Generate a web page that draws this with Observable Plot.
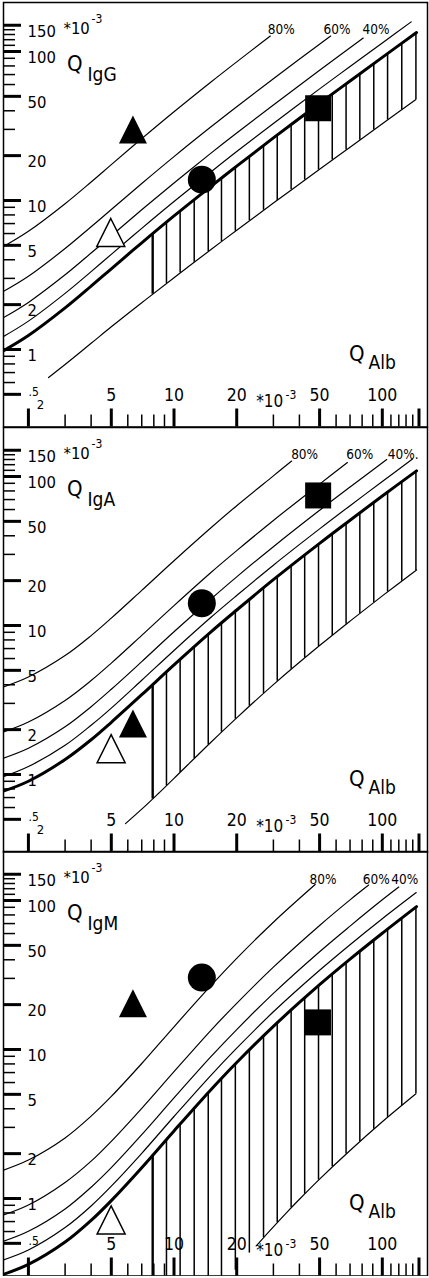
<!DOCTYPE html>
<html><head><meta charset="utf-8">
<script src="https://cdn.jsdelivr.net/npm/d3@7"></script>
<script src="https://cdn.jsdelivr.net/npm/@observablehq/plot@0.6"></script>
<style>
html,body{margin:0;padding:0;background:#fff;}
#chart{padding-top:2px;width:429px;}
#chart svg{display:block;overflow:visible;}
</style></head><body><div id="chart"></div>
<script>
// ---------- axes ----------
const xDomain = [1.5185, 164.8];
const yDomain = [0.3018, 213.2];
const xMajorTicks = [2, 5, 10, 20, 50, 100, 150];
const xMinorTicks = [3, 4, 6, 7, 8, 9, 30, 40, 60, 70, 80, 90, 110, 120, 130, 140];
const xTickLabelValues = [5, 10, 20, 50, 100];
const xTickLabels = ["5", "10", "20", "50", "100"];
const yMajorTicks = [0.5, 1, 2, 5, 10, 20, 50, 100, 150];
const yMinorTicks = [0.6, 0.7, 0.8, 0.9, 3, 4, 6, 7, 8, 9, 30, 40, 60, 70, 80, 90, 110, 120, 130, 140];
const yTickLabelValues = [1, 2, 5, 10, 20, 50, 100, 150];
const yTickLabels = ["1", "2", "5", "10", "20", "50", "100", "150"];

// ---------- hatching (Q_Alb positions of the vertical lines) ----------
const hatchX = [7.9, 9.2, 10.7, 12.5, 14.6, 16.9, 19.7, 23, 26.9, 31.3, 36.5, 42.4, 49.4, 57.5, 67, 78, 91, 106, 124, 145];

// ---------- IgG ----------
const iggLimit = [[1.5,0.971],[2,1.24],[3,1.90],[4,2.66],[5,3.48],[7,5.20],[10,7.88],[15,12.4],[20,17.0],[30,26.3],[50,44.9],[70,63.4],[100,91.3],[146,134]];
const igg20 = [[1.5,1.21],[2,1.55],[3,2.38],[4,3.33],[5,4.35],[7,6.50],[10,9.84],[15,15.5],[20,21.3],[30,32.9],[50,56.1],[70,79.3],[100,114],[137.6,158]];
const igg40 = [[1.5,1.62],[2,2.07],[3,3.17],[4,4.44],[5,5.80],[7,8.66],[10,13.1],[15,20.7],[20,28.4],[30,43.8],[50,74.8],[81,123]];
const igg60 = [[1.5,2.43],[2,3.10],[3,4.76],[4,6.66],[5,8.70],[7,13.0],[10,19.7],[15,31.1],[20,42.6],[30,65.7],[56.5,127]];
const igg80 = [[1.5,4.86],[2,6.21],[3,9.51],[4,13.3],[5,17.4],[7,26.0],[10,39.4],[15,62.2],[20,85.2],[29,127]];
const iggLower = [[2.5,0.648],[3,0.794],[4,1.10],[5,1.42],[7,2.06],[10,3.03],[15,4.67],[20,6.32],[30,9.61],[50,16.2],[70,22.8],[100,32.7],[145,47.6]];
const iggHatchTop = [5.99,7.15,8.51,10.1,12.1,14.2,16.8,19.8,23.4,27.5,32.3,37.8,44.3,51.8,60.7,70.9,83.0,96.9,114,133];
const iggHatchBottom = [2.35,2.77,3.26,3.85,4.54,5.30,6.22,7.30,8.59,10.0,11.8,13.7,16.0,18.7,21.8,25.4,29.7,34.7,40.6,47.6];
const iggMarkerX = [4.97, 6.35, 13.6, 49.2];
const iggMarkerY = [6.1, 30.0, 13.8, 41.6];
const iggPctText = ["80%", "60%", "40%"];
const iggPctX = [28.2, 52.2, 80.4];
const iggPctY = [131.5, 131.5, 131.5];

// ---------- IgA ----------
const igaLimit = [[1.5,0.769],[2,0.901],[3,1.26],[4,1.71],[5,2.24],[7,3.43],[10,5.44],[15,9.03],[20,12.7],[30,20.3],[50,35.6],[70,50.9],[100,74.0],[146,109]];
const iga20 = [[1.5,0.961],[2,1.13],[3,1.57],[4,2.14],[5,2.79],[7,4.29],[10,6.80],[15,11.3],[20,15.9],[30,25.4],[50,44.5],[70,63.7],[100,92.5],[139.6,131]];
const iga40 = [[1.5,1.28],[2,1.50],[3,2.09],[4,2.85],[5,3.73],[7,5.72],[10,9.07],[15,15.0],[20,21.2],[30,33.8],[50,59.3],[70,84.9],[105,130]];
const iga60 = [[1.5,1.92],[2,2.25],[3,3.14],[4,4.27],[5,5.59],[7,8.59],[10,13.6],[15,22.6],[20,31.8],[30,50.7],[50,88.9],[68,124]];
const iga80 = [[1.5,3.85],[2,4.51],[3,6.28],[4,8.55],[5,11.2],[7,17.2],[10,27.2],[15,45.1],[20,63.7],[30,101],[36.7,127]];
const igaLower = [[5.85,0.468],[7,0.585],[8.5,0.756],[10,0.942],[15,1.64],[20,2.40],[30,4.01],[50,7.33],[70,10.7],[100,15.8],[146,23.6]];
const igaHatchTop = [4.02,4.89,5.93,7.21,8.73,10.4,12.5,15.0,17.9,21.3,25.2,29.8,35.1,41.3,48.6,57.1,67.1,78.6,92.5,109];
const igaHatchBottom = [0.685,0.841,1.03,1.28,1.58,1.92,2.35,2.88,3.50,4.22,5.08,6.06,7.22,8.58,10.2,12.0,14.2,16.8,19.8,23.4];
const igaMarkerX = [4.99, 6.35, 13.6, 49.2];
const igaMarkerY = [1.49, 2.2, 14.1, 74.6];
const igaPctText = ["80%", "60%", "40%."];
const igaPctX = [36.5, 67.1, 106.3];
const igaPctY = [131, 131, 131];

// ---------- IgM ----------
const igmLimit = [[1.5,0.308],[2,0.361],[3,0.510],[4,0.713],[5,0.968],[7,1.61],[10,2.84],[15,5.35],[20,8.18],[30,14.3],[50,27.2],[70,40.4],[100,60.3],[146,91.0]];
const igm20 = [[1.5,0.385],[2,0.451],[3,0.638],[4,0.891],[5,1.21],[7,2.01],[10,3.55],[15,6.68],[20,10.2],[30,17.9],[50,34.0],[70,50.5],[100,75.4],[145.5,113]];
const igm40 = [[1.5,0.513],[2,0.602],[3,0.850],[4,1.19],[5,1.61],[7,2.68],[10,4.73],[15,8.91],[20,13.6],[30,23.8],[50,45.3],[70,67.3],[100,101],[120,123]];
const igm60 = [[1.5,0.770],[2,0.903],[3,1.28],[4,1.78],[5,2.42],[7,4.03],[10,7.10],[15,13.4],[20,20.4],[30,35.7],[50,68.0],[70,101],[86,127]];
const igm80 = [[1.5,1.54],[2,1.81],[3,2.55],[4,3.57],[5,4.84],[7,8.05],[10,14.2],[15,26.7],[20,40.9],[30,71.5],[47.6,128]];
const igmLower = [[24.8,0.480],[27,0.549],[30,0.645],[35,0.813],[40,0.988],[50,1.35],[70,2.10],[100,3.27],[145,5.04]];
const igmHatchTop = [1.95,2.48,3.16,4.04,5.13,6.39,8.00,9.97,12.4,15.1,18.4,22.2,26.8,32.1,38.4,45.7,54.3,64.3,76.3,90.3];
const igmHatchBottom = [0.3,0.3,0.3,0.3,0.3,0.3,0.33,0.43,0.546,0.688,0.865,1.07,1.33,1.63,1.99,2.41,2.92,3.50,4.21,5.04];
const igmMarkerX = [4.99, 6.35, 13.6, 49.1];
const igmMarkerY = [0.718, 20.4, 30.4, 15.2];
const igmPctText = ["80%", "60%", "40%"];
const igmPctX = [44.7, 80.6, 110.3];
const igmPctY = [129.4, 129.4, 129.4];

// ---------- drawing ----------
const FONT = "'DejaVu Sans Condensed', 'DejaVu Sans', sans-serif";
const W = 429, H = 424.5, ML = 3, MR = 2;
const isoTriangle = {draw(ctx, size) {
  const h = Math.sqrt(size / Math.PI) * 2;
  ctx.moveTo(0, -h / 2); ctx.lineTo(h / 2, h / 2); ctx.lineTo(-h / 2, h / 2); ctx.closePath();
}};

const panels = [
  {sub: "IgG", limit: iggLimit, lines: [igg20, igg40, igg60, igg80], lower: iggLower, hTop: iggHatchTop, hBot: iggHatchBottom, mx: iggMarkerX, my: iggMarkerY, pt: iggPctText, px: iggPctX, py: iggPctY, x2: true},
  {sub: "IgA", limit: igaLimit, lines: [iga20, iga40, iga60, iga80], lower: igaLower, hTop: igaHatchTop, hBot: igaHatchBottom, mx: igaMarkerX, my: igaMarkerY, pt: igaPctText, px: igaPctX, py: igaPctY, x2: true},
  {sub: "IgM", limit: igmLimit, lines: [igm20, igm40, igm60, igm80], lower: igmLower, hTop: igmHatchTop, hBot: igmHatchBottom, mx: igmMarkerX, my: igmMarkerY, pt: igmPctText, px: igmPctX, py: igmPctY, x2: false}
];

const fx = d => d[0], fy = d => d[1];
const innerW = W - ML - MR;

function label(text, dx, dy, fontSize) {
  return Plot.text([text], {frameAnchor: "top-left", dx, dy, text: d => d, textAnchor: "start", lineAnchor: "bottom", fontSize, fill: "black"});
}

for (const p of panels) {
  const thin = {x: fx, y: fy, stroke: "black", strokeWidth: 1.2, curve: "catmull-rom", clip: true};
  const marks = [
    Plot.ruleX(hatchX, {x: d => d, y1: (d, i) => p.hBot[i], y2: (d, i) => p.hTop[i], stroke: "black", strokeWidth: (d, i) => i === 0 ? 2.4 : 1.5, clip: true}),
    Plot.line(p.lower, thin),
    ...p.lines.map(l => Plot.line(l, thin)),
    Plot.line(p.limit, {...thin, strokeWidth: 3}),
    // axes drawn inside the frame
    Plot.ruleX(xMinorTicks, {x: d => d, insetTop: H - 12, stroke: "black", strokeWidth: 1.5}),
    Plot.ruleX(xMajorTicks, {x: d => d, insetTop: H - 18, stroke: "black", strokeWidth: 3}),
    Plot.ruleY(yMinorTicks, {y: d => d, insetRight: innerW - 12, stroke: "black", strokeWidth: 1.5}),
    Plot.ruleY(yMajorTicks, {y: d => d, insetRight: innerW - 18, stroke: "black", strokeWidth: 3}),
    Plot.text(yTickLabelValues, {y: d => d, text: (d, i) => yTickLabels[i], frameAnchor: "left", dx: 24, textAnchor: "start", lineAnchor: "top", fontSize: 16.5, fill: "black"}),
    Plot.text([0.5], {y: d => d, text: () => ".5", frameAnchor: "left", dx: 25, dy: -2, textAnchor: "start", lineAnchor: "middle", fontSize: 12, fill: "black"}),
    Plot.text(xTickLabelValues, {x: d => d, text: (d, i) => xTickLabels[i], frameAnchor: "bottom", dy: -31.5, lineAnchor: "middle", fontSize: 17.5, fill: "black"}),
    ...(p.x2 ? [Plot.text([2], {x: d => d, text: () => "2", frameAnchor: "bottom", dx: 12, dy: -22, lineAnchor: "middle", fontSize: 13, fill: "black"})] : []),
    // axis titles
    label("*10", 60, 31, 16.5),
    label("-3", 88, 20, 12),
    label("Q", 63.5, 68.5, 22),
    label(p.sub, 84, 78, 19),
    label("Q", 345.5, 358, 22),
    label("Alb", 365, 366, 19),
    label("*10", 252.7, 404.5, 17),
    label("-3", 282, 396.5, 12),
    // percentage labels
    Plot.text(p.pt, {x: (d, i) => p.px[i], y: (d, i) => p.py[i], text: d => d, textAnchor: "start", lineAnchor: "bottom", fontSize: 13.5, fill: "black"}),
    // patient markers: open triangle, filled triangle, circle, square
    Plot.dot([0], {x: () => p.mx[0], y: () => p.my[0], symbol: isoTriangle, r: 14, fill: "white", stroke: "black", strokeWidth: 1.5}),
    Plot.dot([1], {x: () => p.mx[1], y: () => p.my[1], symbol: isoTriangle, r: 14, fill: "black", stroke: "none"}),
    Plot.dot([2], {x: () => p.mx[2], y: () => p.my[2], symbol: "circle", r: 14, fill: "black", stroke: "none"}),
    Plot.dot([3], {x: () => p.mx[3], y: () => p.my[3], symbol: "square", r: 14.67, fill: "black", stroke: "none"}),
    Plot.frame({stroke: "black", strokeWidth: 1.5})
  ];
  const chart = Plot.plot({
    width: W, height: H,
    marginLeft: ML, marginRight: MR, marginTop: 0, marginBottom: 0,
    x: {type: "log", domain: xDomain, axis: null},
    y: {type: "log", domain: yDomain, axis: null},
    style: {fontFamily: FONT, background: "white", overflow: "visible"},
    marks
  });
  document.getElementById("chart").appendChild(chart);
}
</script></body></html>
